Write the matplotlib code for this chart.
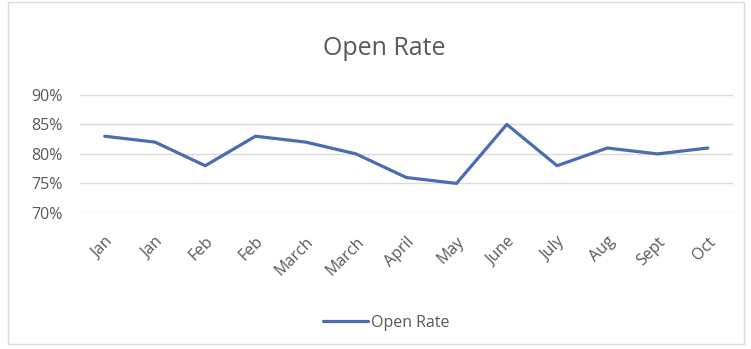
import matplotlib
matplotlib.use('Agg')
import matplotlib.pyplot as plt
from matplotlib.ticker import PercentFormatter
from matplotlib.patches import Rectangle

# Datos
months = ['Jan', 'Jan', 'Feb', 'Feb', 'March', 'March', 'April', 'May',
          'June', 'July', 'Aug', 'Sept', 'Oct']
open_rate = [83, 82, 78, 83, 82, 80, 76, 75, 85, 78, 81, 80, 81]
y_ticks = [70, 75, 80, 85, 90]

plt.rcParams['font.family'] = ['Open Sans', 'DejaVu Sans']

fig = plt.figure(figsize=(7.51, 3.49), dpi=100)
ax = fig.add_axes([0.106, 0.390, 0.870, 0.338])

x = range(len(months))
ax.plot(x, open_rate, color='#4a6db0', linewidth=2.3, label='Open Rate',
        solid_joinstyle='round', solid_capstyle='round')

ax.set_xlim(-0.5, len(months) - 0.5)
ax.set_ylim(70, 90)
ax.set_yticks(y_ticks)
ax.yaxis.set_major_formatter(PercentFormatter(decimals=0))
ax.set_xticks(list(x))
ax.set_xticklabels(months, rotation=45, ha='right', rotation_mode='anchor')
ax.tick_params(axis='x', length=0, labelsize=11.5, colors='#595959', pad=15)
ax.tick_params(axis='y', length=0, labelsize=11.5, colors='#595959', pad=12)
ax.grid(axis='y', color='#d9d9d9', linewidth=1)
ax.set_axisbelow(True)
for s in ax.spines.values():
    s.set_visible(False)

fig.text(0.512, 0.862, 'Open Rate', ha='center', va='center',
         fontsize=18, color='#595959')

fig.legend(loc='center', bbox_to_anchor=(0.514, 0.075), frameon=False,
           fontsize=11.5, labelcolor='#595959', handlelength=2.8,
           handletextpad=0.2)

fig.patches.append(Rectangle((0.011, 0.015), 0.98, 0.98, transform=fig.transFigure,
                             fill=False, edgecolor='#d9d9d9', linewidth=1))

fig.savefig('out.png', dpi=100, facecolor='white')
